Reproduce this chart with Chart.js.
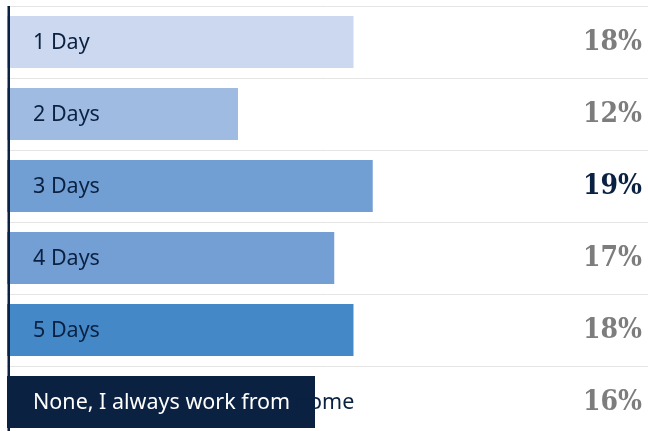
<!DOCTYPE html>
<html>
<head>
<meta charset="utf-8">
<script src="https://cdn.jsdelivr.net/npm/chart.js@4"></script>
<style>
  html, body { margin: 0; padding: 0; background: #fff; overflow: hidden; }
  #wrap { width: 648px; height: 440px; }
</style>
</head>
<body>
<div id="wrap"><canvas id="chart" width="648" height="440"></canvas></div>
<script>
// Дни работы из дома
const categories = ['1 Day', '2 Days', '3 Days', '4 Days', '5 Days', 'None, I always work from home'];
const shares = [18, 12, 19, 17, 18, 16];
const barColors = ['#cbd8ef', '#a0bbe1', '#729fd3', '#749fd4', '#4588c8', '#0a2141'];
const highlightIndex = 5;

const NAVY = '#0a2141';
const LABEL_FONT = '21.5px "Noto Sans", "Open Sans", sans-serif';
const VALUE_FONT = 'bold 28px "DejaVu Serif", serif';
const topMax = Math.max(...shares);

// Подписи внутри столбцов, проценты справа и ось слева
const barLabels = {
  id: 'barLabels',
  afterDatasetsDraw(chart) {
    const ctx = chart.ctx;
    const area = chart.chartArea;
    const meta = chart.getDatasetMeta(0);

    // Вертикальная ось поверх столбцов
    ctx.save();
    ctx.fillStyle = NAVY;
    ctx.fillRect(area.left + 0.5, area.top, 2.5, chart.height - area.top);
    ctx.restore();

    // Выделенный столбец рисуется поверх оси
    meta.data[highlightIndex].draw(ctx);

    ctx.save();
    ctx.textBaseline = 'middle';
    meta.data.forEach((bar, i) => {
      const x0 = bar.base + 26;
      const y = bar.y + 1;
      ctx.font = LABEL_FONT;
      ctx.fontStretch = 'normal';
      ctx.textAlign = 'left';
      ctx.fillStyle = NAVY;
      ctx.fillText(categories[i], x0, y);

      if (i === highlightIndex) {
        // Белый текст только из слов, которые помещаются в столбец
        const words = categories[i].split(' ');
        let line = '';
        for (const w of words) {
          const next = line ? line + ' ' + w : w;
          if (x0 + ctx.measureText(next).width > bar.x - 20) break;
          line = next;
        }
        ctx.fillStyle = '#ffffff';
        ctx.fillText(line, x0, y);
      }

      // Процент справа
      const isTop = shares[i] === topMax;
      ctx.font = VALUE_FONT;
      ctx.fontStretch = 'condensed';
      ctx.textAlign = 'right';
      ctx.fillStyle = isTop ? NAVY : '#7d7d7d';
      ctx.fillText(shares[i] + '%', area.right - 6, bar.y + 1);
    });
    ctx.restore();
  }
};

new Chart(document.getElementById('chart'), {
  type: 'bar',
  data: {
    labels: categories,
    datasets: [{
      data: shares,
      backgroundColor: barColors,
      borderWidth: 0,
      categoryPercentage: 52 / 72,
      barPercentage: 1
    }]
  },
  options: {
    indexAxis: 'y',
    responsive: false,
    animation: false,
    events: [],
    layout: { padding: { top: 6, left: 7, right: 0, bottom: 2 } },
    plugins: {
      legend: { display: false },
      tooltip: { enabled: false }
    },
    scales: {
      x: { display: false, min: 0, max: 33.3 },
      y: {
        ticks: { display: false },
        border: { display: false },
        grid: { color: '#e4e4e4', lineWidth: 1, drawTicks: false }
      }
    }
  },
  plugins: [barLabels]
});
</script>
</body>
</html>
